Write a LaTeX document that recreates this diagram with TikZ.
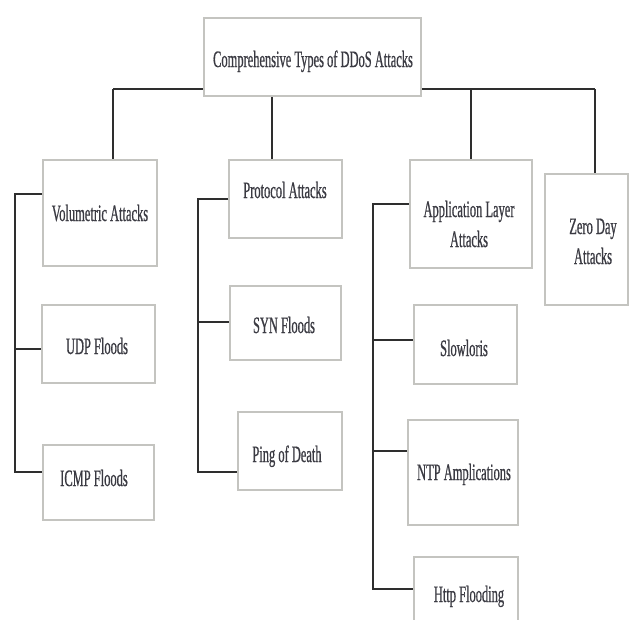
\documentclass[tikz,border=0pt]{standalone}
\usepackage{fontspec}
\setmainfont{Liberation Serif}[FakeStretch=0.53, FakeBold=0.6]
\definecolor{boxline}{HTML}{C4C4C0}
\definecolor{wire}{HTML}{2E2E2E}
\definecolor{ink}{HTML}{3A3A42}
\begin{document}
\begin{tikzpicture}[x=1pt,y=-1pt,
  box/.style={draw=boxline, fill=white, line width=1.5pt, inner sep=0pt, anchor=north west},
  link/.style={draw=wire, line width=1.7pt},
  lbl/.style={text=ink, font=\fontsize{23.5}{30}\selectfont, align=center, anchor=base, inner sep=0pt}]
\clip (0,0) rectangle (629,619);
\fill[white] (0,0) rectangle (629,619);

% attachment points of the top bus and the three side spines
\coordinate (d1) at (113,89);
\coordinate (d2) at (272,89);
\coordinate (d3) at (471,89);
\coordinate (d4) at (595,89);
\coordinate (s1) at (15,194);
\coordinate (s2) at (198,199);
\coordinate (s3) at (373,204);

% boxes
\node[box, minimum width=114, minimum height=106] (vol)  at (42,159)  {};
\node[box, minimum width=113, minimum height=78]  (udp)  at (41,304)  {};
\node[box, minimum width=111, minimum height=75]  (icmp) at (42,444)  {};
\node[box, minimum width=113, minimum height=78]  (prot) at (228,159) {};
\node[box, minimum width=111, minimum height=74]  (syn)  at (229,285) {};
\node[box, minimum width=104, minimum height=78]  (ping) at (237,411) {};
\node[box, minimum width=122, minimum height=108] (app)  at (409,159) {};
\node[box, minimum width=83,  minimum height=131] (zero) at (544,173) {};
\node[box, minimum width=103, minimum height=79]  (slow) at (413,304) {};
\node[box, minimum width=110, minimum height=105] (ntp)  at (407,419) {};
\node[box, minimum width=104, minimum height=90]  (http) at (413,556) {};

% connectors
\draw[link] (d1) -- (d4);
\draw[link] (d1) -- (d1 |- vol.north);
\draw[link] (d2) -- (d2 |- prot.north);
\draw[link] (d3) -- (d3 |- app.north);
\draw[link] (d4) -- (d4 |- zero.north);

\draw[link] (s1 -| vol.west) -- (s1) |- (icmp.west |- 0,472);
\draw[link] (s1 |- 0,349) -- (udp.west |- 0,349);

\draw[link] (s2 -| prot.west) -- (s2) |- (ping.west |- 0,472);
\draw[link] (s2 |- 0,322) -- (syn.west |- 0,322);

\draw[link] (s3 -| app.west) -- (s3) |- (http.west |- 0,589);
\draw[link] (s3 |- 0,340) -- (slow.west |- 0,340);
\draw[link] (s3 |- 0,451) -- (ntp.west |- 0,451);

% root box sits over the bus
\node[box, minimum width=217, minimum height=78] (root) at (203,17) {};

% labels (two-line labels are placed by their last baseline)
\node[lbl] (troot) at (313,67)  {Comprehensive Types of DDoS Attacks};
\node[lbl] (tvol)  at (100,221) {Volumetric Attacks};
\node[lbl] (tudp)  at (97,354)  {UDP Floods};
\node[lbl] (ticmp) at (94,486)  {ICMP Floods};
\node[lbl] (tprot) at (285,198) {Protocol Attacks};
\node[lbl] (tsyn)  at (284,333) {SYN Floods};
\node[lbl] (tping) at (287,462) {Ping of Death};
\node[lbl] (tapp)  at (469,247) {Application Layer\\Attacks};
\node[lbl] (tzero) at (593,264) {Zero Day\\Attacks};
\node[lbl] (tslow) at (464,356) {Slowloris};
\node[lbl] (tntp)  at (464,480) {NTP Amplications};
\node[lbl] (thttp) at (469,602) {Http Flooding};
\end{tikzpicture}
\end{document}
